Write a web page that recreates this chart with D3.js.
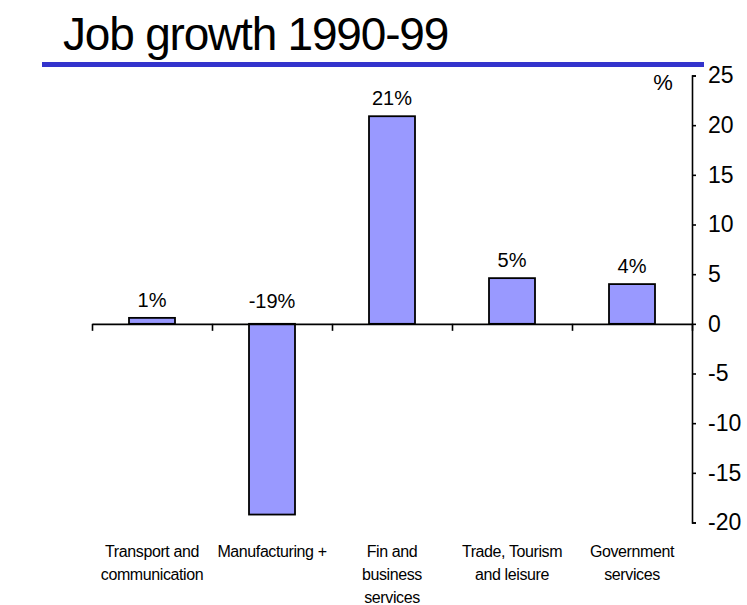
<!DOCTYPE html>
<html>
<head>
<meta charset="utf-8">
<script src="https://cdn.jsdelivr.net/npm/d3@7"></script>
<style>
  html, body { margin: 0; padding: 0; background: #fff; }
  svg { display: block; font-family: Arial, "Liberation Sans", Helvetica, sans-serif; }
</style>
</head>
<body>
<svg id="chart" width="747" height="605"></svg>
<script>
// Sector job growth, 1990-99 (% change)
const categories = [
  "Transport and\ncommunication",
  "Manufacturing +",
  "Fin and\nbusiness\nservices",
  "Trade, Tourism\nand leisure",
  "Government\nservices"
];
const growth = [0.6, -19.2, 20.9, 4.6, 4.0];
const yTicks = [-20, -15, -10, -5, 0, 5, 10, 15, 20, 25];
const title = "Job growth 1990-99";
const unitLabel = "%";

const svg = d3.select("#chart");

const plot = { left: 92, right: 692, top: 75.5, bottom: 522.5 };

const y = d3.scaleLinear().domain([-20, 25]).range([plot.bottom, plot.top]);

// category slots (edges) and bar positions within them
const xEdge = d3.scaleLinear().domain([0, categories.length]).range([plot.left, plot.right]);
const xBar = d3.scaleBand().domain(categories).range([plot.left, plot.right])
  .paddingInner(0.6167).paddingOuter(0.30835);

// title and rule
svg.append("text")
  .attr("x", 63).attr("y", 50)
  .attr("font-size", 46)
  .attr("letter-spacing", "-1.2px")
  .attr("fill", "#000")
  .text(title);

svg.append("line")
  .attr("x1", 42).attr("x2", 704)
  .attr("y1", 64.5).attr("y2", 64.5)
  .attr("stroke", "#3333cc").attr("stroke-width", 5);

// bars
svg.append("g").selectAll("rect")
  .data(categories.map((c, i) => ({ c, v: growth[i] })))
  .join("rect")
  .attr("x", d => xBar(d.c))
  .attr("width", xBar.bandwidth())
  .attr("y", d => y(Math.max(0, d.v)))
  .attr("height", d => Math.abs(y(d.v) - y(0)))
  .attr("fill", "#9999ff")
  .attr("stroke", "#000")
  .attr("stroke-width", 1.8);

// value labels
svg.append("g").selectAll("text")
  .data(categories.map((c, i) => ({ c, v: growth[i] })))
  .join("text")
  .attr("x", d => xBar(d.c) + xBar.bandwidth() / 2)
  .attr("y", d => y(Math.max(0, d.v)) - (d.v < 0 ? 16 : 11))
  .attr("text-anchor", "middle")
  .attr("font-size", 20)
  .attr("fill", "#000")
  .text(d => Math.round(d.v) + "%");

// x axis along zero, ticks at slot edges
const xAxis = svg.append("g")
  .attr("transform", `translate(0,${y(0)})`)
  .call(d3.axisBottom(xEdge)
    .tickValues(d3.range(categories.length + 1))
    .tickSize(7).tickSizeOuter(0).tickFormat(""));
xAxis.selectAll("path, line").attr("stroke", "#000").attr("stroke-width", 1.6);

// right-hand value axis
const yAxis = svg.append("g")
  .attr("transform", `translate(${plot.right},0)`)
  .call(d3.axisRight(y).tickValues(yTicks).tickSize(4).tickSizeOuter(4).tickPadding(12)
    .tickFormat(d => String(d)));
yAxis.selectAll("path, line").attr("stroke", "#000").attr("stroke-width", 1.6);
yAxis.selectAll("text")
  .attr("font-size", 23)
  .attr("font-family", "Arial, 'Liberation Sans', sans-serif")
  .attr("fill", "#000");

svg.append("text")
  .attr("x", 663).attr("y", 90)
  .attr("text-anchor", "middle")
  .attr("font-size", 22)
  .attr("fill", "#000")
  .text(unitLabel);

// category labels
const catG = svg.append("g").selectAll("text")
  .data(categories)
  .join("text")
  .attr("x", (d, i) => (xEdge(i) + xEdge(i + 1)) / 2)
  .attr("y", 557)
  .attr("text-anchor", "middle")
  .attr("font-size", 16)
  .attr("letter-spacing", "-0.4px")
  .attr("fill", "#000");
catG.selectAll("tspan")
  .data(d => d.split("\n"))
  .join("tspan")
  .attr("x", function () { return d3.select(this.parentNode).attr("x"); })
  .attr("dy", (d, i) => i === 0 ? 0 : 23)
  .text(d => d);
</script>
</body>
</html>
